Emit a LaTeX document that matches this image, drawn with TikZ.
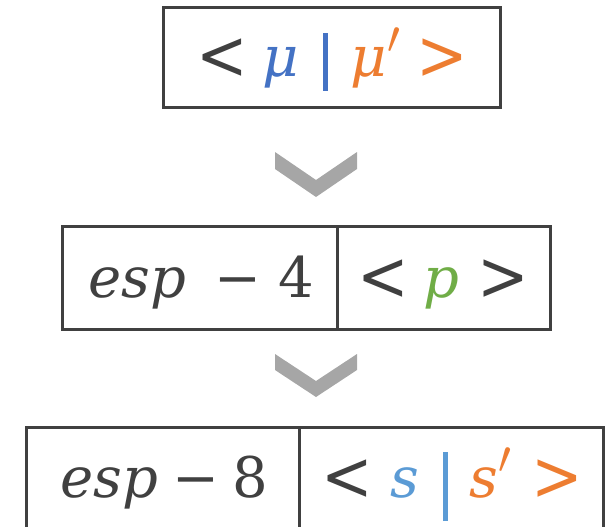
\documentclass[tikz,border=0pt]{standalone}
\usepackage{fix-cm}
\usepackage{fontspec}
\setmainfont{DejaVu Serif}
\usepackage{graphicx}
\usepackage{xcolor}
\definecolor{dk}{HTML}{404040}
\definecolor{mublue}{HTML}{4472C4}
\definecolor{sblue}{HTML}{5B9BD5}
\definecolor{org}{HTML}{ED7D31}
\definecolor{grn}{HTML}{70AD47}
\definecolor{chev}{HTML}{A6A6A6}
\newcommand{\bigtxt}{\fontsize{56}{56}\selectfont}
% glyph placed at an offset from the start of its label
\newcommand{\gl}[2]{\rlap{\hspace{#1pt}#2}}
\newcommand{\vbar}[3]{\textcolor{#1}{\rule[-#2pt]{5pt}{#3pt}}}
\newcommand{\lt}{\raisebox{-3pt}{\scalebox{1.1}[1.25]{<}}}
\newcommand{\gt}{\raisebox{-3pt}{\scalebox{1.1}[1.25]{>}}}
\newcommand{\prm}{{\fontsize{66}{66}\selectfont$^{\prime}$}}
\begin{document}
\begin{tikzpicture}[x=1pt,y=-1pt,
  cell/.style={draw=dk,line width=3pt,rectangle,inner sep=0pt},
  txt/.style={text=dk,anchor=base west,inner sep=0pt,font=\bigtxt},
  chevron/.style={fill=chev,draw=none}]
\useasboundingbox (0,0) rectangle (608,527);
% boxes
\node[cell,minimum width=337,minimum height=99] (b1) at (331.5,57.5) {};
\node[cell,minimum width=275,minimum height=103] (b2l) at (199.5,277.5) {};
\node[cell,minimum width=213,minimum height=103] (b2r) at (443.5,277.5) {};
\node[cell,minimum width=273,minimum height=120] (b3l) at (162.5,487) {};
\node[cell,minimum width=304,minimum height=120] (b3r) at (451,487) {};
% texts
\node[txt] (t1) at (196,77) {\gl{0}{\lt}\gl{66}{\textcolor{mublue}{\itshape μ}}\gl{126}{\vbar{mublue}{14}{58}}\gl{154}{\textcolor{org}{\itshape μ\prm}}\gl{220}{\textcolor{org}{\gt}}};
\node[txt] (t2l) at (88,297) {\gl{0}{\itshape esp}\gl{126}{−}\gl{190}{4}};
\node[txt] (t2r) at (357,297) {\gl{0}{\lt}\gl{66}{\textcolor{grn}{\itshape p}}\gl{120}{\gt}};
\node[txt] (t3l) at (60,497) {\gl{0}{\itshape esp}\gl{112}{−}\gl{172}{8}};
\node[txt] (t3r) at (321,497) {\gl{0}{\lt}\gl{69}{\textcolor{sblue}{\itshape s}}\gl{121}{\vbar{sblue}{24}{69}}\gl{148}{\textcolor{org}{\itshape s\prm}}\gl{210}{\textcolor{org}{\gt}}};
% chevrons
\fill[chevron] (275,152) -- (316,180) -- (357,152) -- (357,169) -- (316,197) -- (275,169) -- cycle;
\fill[chevron] (275,354) -- (316,381) -- (357,354) -- (357,370) -- (316,397) -- (275,370) -- cycle;
\end{tikzpicture}
\end{document}
